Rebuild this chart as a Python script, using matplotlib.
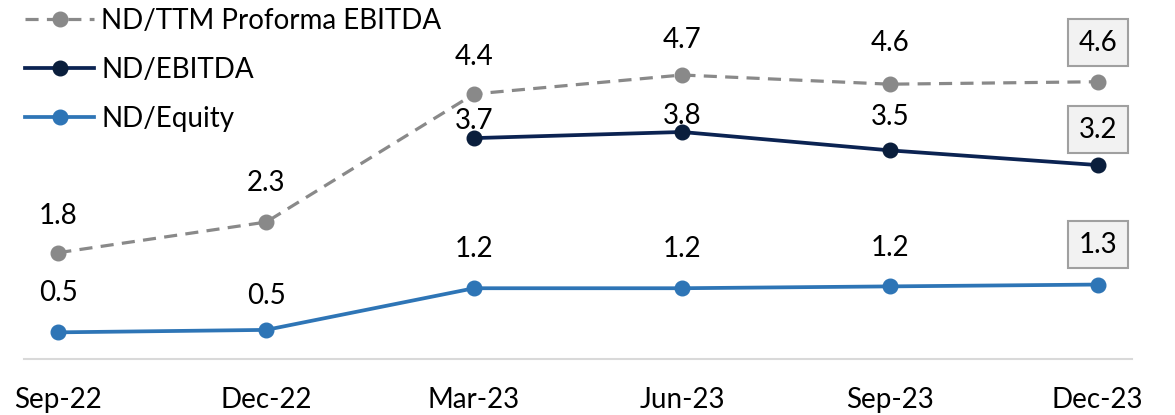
import matplotlib.pyplot as plt

plt.rcParams['font.family'] = ['Lato', 'DejaVu Sans']

# data
quarters = ['Sep-22', 'Dec-22', 'Mar-23', 'Jun-23', 'Sep-23', 'Dec-23']
nd_ttm_proforma = [1.80, 2.30, 4.39, 4.70, 4.55, 4.59]
nd_ebitda = [None, None, 3.67, 3.77, 3.47, 3.23]
nd_equity = [0.50, 0.54, 1.22, 1.22, 1.25, 1.28]
labels_ttm = ['1.8', '2.3', '4.4', '4.7', '4.6', '4.6']
labels_ebitda = [None, None, '3.7', '3.8', '3.5', '3.2']
labels_equity = ['0.5', '0.5', '1.2', '1.2', '1.2', '1.3']

grey = '#898989'
navy = '#0B2352'
blue = '#2E75B6'
FS = 20

fig = plt.figure(figsize=(11.75, 4.15), dpi=100)
ax = fig.add_axes([24 / 1175, 56 / 415, 1108 / 1175, 359 / 415])

x = list(range(len(quarters)))
xe = [i for i, v in zip(x, nd_ebitda) if v is not None]
ye = [v for v in nd_ebitda if v is not None]

ax.plot(x, nd_ttm_proforma, color=grey, lw=2.3, ls=(0, (4.1, 2.6)), marker='o',
        ms=10.5, mfc=grey, mec=grey, label='ND/TTM Proforma EBITDA', clip_on=False, zorder=3)
ax.plot(xe, ye, color=navy, lw=2.7, marker='o', ms=10.5, mfc='#0A1E3C', mec='#0A1E3C',
        label='ND/EBITDA', clip_on=False, zorder=3)
ax.plot(x, nd_equity, color=blue, lw=2.7, marker='o', ms=10.5, mfc=blue, mec=blue,
        label='ND/Equity', clip_on=False, zorder=3)

box = dict(boxstyle='square,pad=0.38', fc='#F2F2F2', ec='#A0A0A0', lw=1.5)


def put_labels(xs, ys, labs, offsets):
    for i, (xi, yi, lab) in enumerate(zip(xs, ys, labs)):
        if lab is None:
            continue
        last = xi == len(quarters) - 1
        ax.annotate(lab, (xi, yi), xytext=(0, offsets[i]), textcoords='offset points',
                    ha='center', va='center', fontsize=FS, color='black',
                    bbox=box if last else None, annotation_clip=False, zorder=4)


put_labels(x, nd_ttm_proforma, labels_ttm, [26.2, 28, 26.6, 25.2, 29.5, 28])
put_labels(x, nd_ebitda, labels_ebitda, [0, 0, 12, 11.5, 23.8, 25.6])
put_labels(x, nd_equity, labels_equity, [28, 24.5, 28, 28, 28, 28.8])

ax.set_xlim(-0.165, 5.165)
ax.set_ylim(0.065, 5.924)
for s in ['top', 'right', 'left']:
    ax.spines[s].set_visible(False)
ax.spines['bottom'].set_color('#D9D9D9')
ax.spines['bottom'].set_linewidth(1.5)
ax.set_yticks([])
ax.set_xticks(x)
ax.set_xticklabels(quarters, fontsize=FS)
ax.tick_params(axis='x', length=0, pad=20)

ax.legend(loc='upper left', bbox_to_anchor=(25 / 1175, 1 - 8 / 415), bbox_transform=fig.transFigure,
          frameon=False, fontsize=FS, handlelength=2.5, handletextpad=0.25,
          labelspacing=0.82, borderaxespad=0, borderpad=0)

fig.savefig('out.png', dpi=100)
